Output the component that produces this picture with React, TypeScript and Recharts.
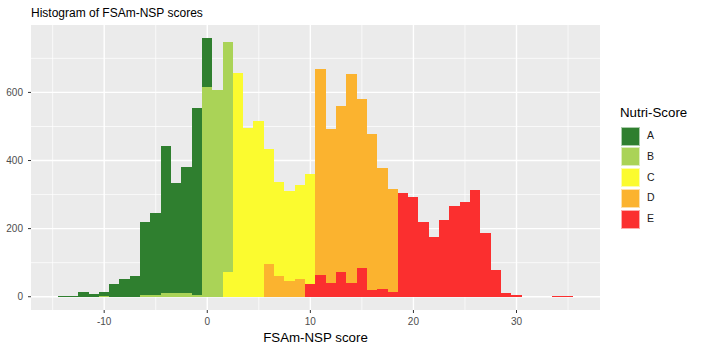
import React from "react";
import { BarChart, Bar, XAxis, YAxis, CartesianGrid } from "recharts";

// score bins (width 1, centred on integers)
const FIRST_BIN = -14;
const LAST_BIN = 35;

const GRADES = ["A", "B", "C", "D", "E"];
const COLORS = ["#2F7F2F", "#AAD357", "#FBFB2F", "#FBB32F", "#FB2F2F"];

// counts per grade, starting at the given bin
const A_START = -14;
const A_COUNTS = [2, 2, 13, 9, 12, 36, 51, 61, 214, 242, 431, 323, 368, 549, 144];
const B_START = -10;
const B_COUNTS = [3, 0, 0, 0, 6, 4, 12, 12, 12, 6, 616, 608, 674];
const C_START = 2;
const C_COUNTS = [73, 657, 495, 515, 338, 277, 264, 277, 323];
const D_START = 6;
const D_COUNTS = [96, 61, 47, 51, 0, 606, 453, 489, 616, 497, 458, 355, 302];
const E_START = 10;
const E_COUNTS = [
  37, 64, 39, 72, 39, 85, 20, 24, 14, 304, 292, 218, 176, 226, 265, 278, 312,
  187, 78, 10, 5, 0, 0, 0, 2, 2,
];

const X_TICKS = [-10, 0, 10, 20, 30];
const X_MINOR = [-15, -5, 5, 15, 25, 35];
const Y_TICKS = [0, 200, 400, 600];
const Y_MINOR = [100, 300, 500, 700];

const SERIES: [number, number[]][] = [
  [A_START, A_COUNTS],
  [B_START, B_COUNTS],
  [C_START, C_COUNTS],
  [D_START, D_COUNTS],
  [E_START, E_COUNTS],
];

const pick = (start: number, counts: number[], bin: number) =>
  counts[bin - start] ?? 0;

const data: any[] = [];
for (let b = FIRST_BIN; b <= LAST_BIN; b++) {
  const row: any = { score: b };
  GRADES.forEach((g, i) => {
    row[g] = pick(SERIES[i][0], SERIES[i][1], b);
  });
  data.push(row);
}

const FONT = "'Liberation Sans', Arial, sans-serif";

const W = 701;
const H = 351;
const MARGIN = { top: 25, right: 101, bottom: 0, left: 0 };
const Y_AXIS_W = 31;
const X_DOMAIN: [number, number] = [-17.1, 38.1];
// one bin = one unit of the x scale
const BIN_PX =
  (W - MARGIN.right - MARGIN.left - Y_AXIS_W) / (X_DOMAIN[1] - X_DOMAIN[0]);

// full-width bin rectangle around the bar centre, so neighbouring bins touch
const BinRect = (props: any) => {
  const { x, y, width, height, fill } = props;
  if (!height || height <= 0) return null;
  const cx = x + width / 2;
  return (
    <rect
      x={cx - BIN_PX / 2}
      y={y}
      width={BIN_PX}
      height={height}
      fill={fill}
      shapeRendering="crispEdges"
    />
  );
};

export default function App() {
  return (
    <div
      style={{
        position: "absolute",
        left: 0,
        top: 0,
        width: W,
        height: H,
        background: "#fff",
        fontFamily: FONT,
      }}
    >
      <div
        style={{
          position: "absolute",
          left: 31,
          top: 6,
          fontSize: 12,
          lineHeight: "14px",
          color: "#000",
          whiteSpace: "nowrap",
        }}
      >
        Histogram of FSAm-NSP scores
      </div>
      <BarChart
        width={W}
        height={H}
        data={data}
        margin={MARGIN}
        barCategoryGap={0}
        barGap={0}
      >
        <CartesianGrid
          fill="#EBEBEB"
          stroke="#FFFFFF"
          strokeWidth={0.7}
          horizontalValues={Y_MINOR}
          verticalValues={X_MINOR}
        />
        <CartesianGrid
          stroke="#FFFFFF"
          strokeWidth={1.4}
          horizontalValues={Y_TICKS}
          verticalValues={X_TICKS}
        />
        <XAxis
          dataKey="score"
          type="number"
          domain={X_DOMAIN}
          allowDataOverflow
          ticks={X_TICKS}
          height={41}
          axisLine={false}
          tickLine={{ stroke: "#333333" }}
          tickSize={3}
          tickMargin={5}
          tick={{ fill: "#4D4D4D", fontSize: 10, fontFamily: FONT }}
          label={{
            value: "FSAm-NSP score",
            position: "insideBottom",
            offset: 9,
            fill: "#000",
            fontSize: 13.3,
            fontFamily: FONT,
          }}
        />
        <YAxis
          type="number"
          domain={[-39, 798]}
          allowDataOverflow
          ticks={Y_TICKS}
          width={Y_AXIS_W}
          axisLine={false}
          tickLine={{ stroke: "#333333" }}
          tickSize={3}
          tickMargin={5}
          tick={{ fill: "#4D4D4D", fontSize: 10, fontFamily: FONT }}
        />
        {/* ggplot stacks the first level on top, so draw E first */}
        {GRADES.map((g, i) => ({ g, i }))
          .reverse()
          .map(({ g, i }) => (
            <Bar
              key={g}
              dataKey={g}
              stackId="s"
              fill={COLORS[i]}
              shape={BinRect}
              isAnimationActive={false}
            />
          ))}
      </BarChart>
      <div
        style={{
          position: "absolute",
          left: 620,
          top: 105,
          fontSize: 13.3,
          lineHeight: "16px",
          color: "#000",
          whiteSpace: "nowrap",
        }}
      >
        Nutri-Score
      </div>
      {GRADES.map((g, i) => (
        <div key={g}>
          <div
            style={{
              position: "absolute",
              left: 621,
              top: 126.5 + i * 20.75,
              width: 17,
              height: 17,
              background: COLORS[i],
              border: "1px solid rgba(255,255,255,0.6)",
            }}
          />
          <div
            style={{
              position: "absolute",
              left: 647,
              top: 129 + i * 20.75,
              fontSize: 10.5,
              lineHeight: "12px",
              color: "#1A1A1A",
            }}
          >
            {g}
          </div>
        </div>
      ))}
    </div>
  );
}
